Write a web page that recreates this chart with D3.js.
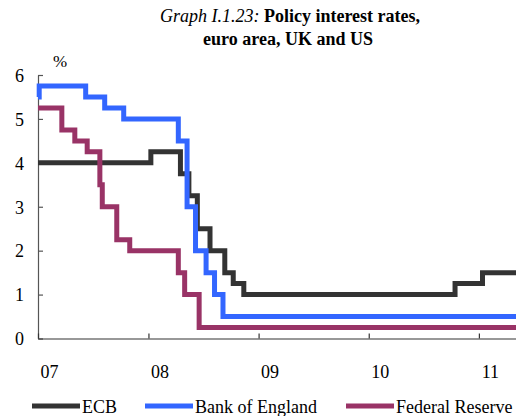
<!DOCTYPE html>
<html>
<head>
<meta charset="utf-8">
<script src="https://cdn.jsdelivr.net/npm/d3@7"></script>
<style>
  html, body { margin: 0; padding: 0; background: #fff; }
  svg { display: block; }
  text { font-family: "Liberation Serif", "Times New Roman", serif; fill: #000; }
</style>
</head>
<body>
<svg id="chart" width="516" height="416"></svg>
<script>
// ---- Data (step-change dates and policy rates, %) ----
const ecbDates = ["2007-07-01","2008-07-09","2008-10-15","2008-11-12","2008-12-10","2009-01-21","2009-03-11","2009-04-08","2009-05-13","2011-04-13","2011-07-13","2011-11-01"];
const ecbValues = [4.0, 4.25, 3.75, 3.25, 2.5, 2.0, 1.5, 1.25, 1.0, 1.25, 1.5, 1.5];

const boeDates = ["2007-07-01","2007-07-05","2007-12-06","2008-02-07","2008-04-10","2008-10-08","2008-11-06","2008-12-04","2009-01-08","2009-02-05","2009-03-05","2011-11-01"];
const boeValues = [5.5, 5.75, 5.5, 5.25, 5.0, 4.5, 3.0, 2.0, 1.5, 1.0, 0.5, 0.5];

const fedDates = ["2007-07-01","2007-09-18","2007-10-31","2007-12-11","2008-01-22","2008-01-30","2008-03-18","2008-04-30","2008-10-08","2008-10-29","2008-12-16","2011-11-01"];
const fedValues = [5.25, 4.75, 4.5, 4.25, 3.5, 3.0, 2.25, 2.0, 1.5, 1.0, 0.25, 0.25];

const seriesNames = ["ECB", "Bank of England", "Federal Reserve"];
const seriesColors = ["#333333", "#3366ff", "#993366"];

const xTickDates = ["2007-07-01","2008-07-01","2009-07-01","2010-07-01","2011-07-01"];
const xTickLabels = ["07", "08", "09", "10", "11"];
const yTicks = [0, 1, 2, 3, 4, 5, 6];

// ---- Build ----
const parse = d3.timeParse("%Y-%m-%d");
const series = [
  ecbDates.map((d, i) => ({ date: parse(d), value: ecbValues[i] })),
  boeDates.map((d, i) => ({ date: parse(d), value: boeValues[i] })),
  fedDates.map((d, i) => ({ date: parse(d), value: fedValues[i] }))
];

const serif = "'Liberation Serif', 'Times New Roman', serif";
const svg = d3.select("#chart");
const plotLeft = 38, plotRight = 516, plotTop = 75, plotBottom = 338.5;

const x = d3.scaleTime()
  .domain([parse("2007-07-01"), parse("2011-11-01")])
  .range([plotLeft, plotRight]);
const y = d3.scaleLinear().domain([0, 6]).range([plotBottom, plotTop]);

// Title
const title = svg.append("text").attr("x", 290).attr("y", 22).attr("text-anchor", "middle")
  .attr("font-family", serif).style("font-size", "18px");
title.append("tspan").style("font-style", "italic").text("Graph I.1.23: ");
title.append("tspan").style("font-weight", "bold").text("Policy interest rates,");
svg.append("text").attr("x", 288).attr("y", 45).attr("text-anchor", "middle")
  .attr("font-family", serif).style("font-size", "18px").style("font-weight", "bold").text("euro area, UK and US");

// % label
svg.append("text").attr("x", 60).attr("y", 67).attr("text-anchor", "middle")
  .attr("font-family", serif).style("font-size", "17px").text("%");

// Y axis
const yAxis = d3.axisLeft(y).tickValues(yTicks).tickSizeInner(-5).tickSizeOuter(0).tickPadding(14)
  .tickFormat(d3.format("d"));
const gy = svg.append("g").attr("transform", `translate(${plotLeft},0)`).call(yAxis)
  .attr("font-family", serif).attr("font-size", 18);
gy.select(".domain").attr("stroke", "#555").attr("stroke-width", 1.2);
gy.selectAll(".tick line").attr("stroke", "#555").attr("stroke-width", 1.2);
gy.selectAll(".tick text").attr("fill", "#000").attr("dy", "0.35em");

// X axis
const xAxis = d3.axisBottom(x).tickValues(xTickDates.map(parse)).tickSizeInner(-5).tickSizeOuter(0)
  .tickFormat((d, i) => xTickLabels[i]);
const gx = svg.append("g").attr("transform", `translate(0,${plotBottom})`).call(xAxis)
  .attr("font-family", serif).attr("font-size", 18);
gx.select(".domain").attr("stroke", "#333").attr("stroke-width", 1.2);
gx.selectAll(".tick line").attr("stroke", "#333").attr("stroke-width", 1.2);
gx.selectAll(".tick text").attr("fill", "#000")
  .attr("x", 11).attr("y", 0).attr("dy", "39px");

// Lines
const line = d3.line().x(d => x(d.date)).y(d => y(d.value)).curve(d3.curveStepAfter);
series.forEach((s, i) => {
  svg.append("path").datum(s).attr("d", line)
    .attr("fill", "none").attr("stroke", seriesColors[i]).attr("stroke-width", 5)
    .attr("stroke-linejoin", "miter").attr("stroke-linecap", "butt");
});

// Legend
const legendX = [32, 145, 346];
const legendY = 406;
seriesNames.forEach((name, i) => {
  svg.append("line").attr("x1", legendX[i]).attr("x2", legendX[i] + 48)
    .attr("y1", legendY).attr("y2", legendY)
    .attr("stroke", seriesColors[i]).attr("stroke-width", 5);
  svg.append("text").attr("x", legendX[i] + 50).attr("y", legendY + 7)
    .attr("font-family", serif).style("font-size", "18px").text(name);
});
</script>
</body>
</html>
